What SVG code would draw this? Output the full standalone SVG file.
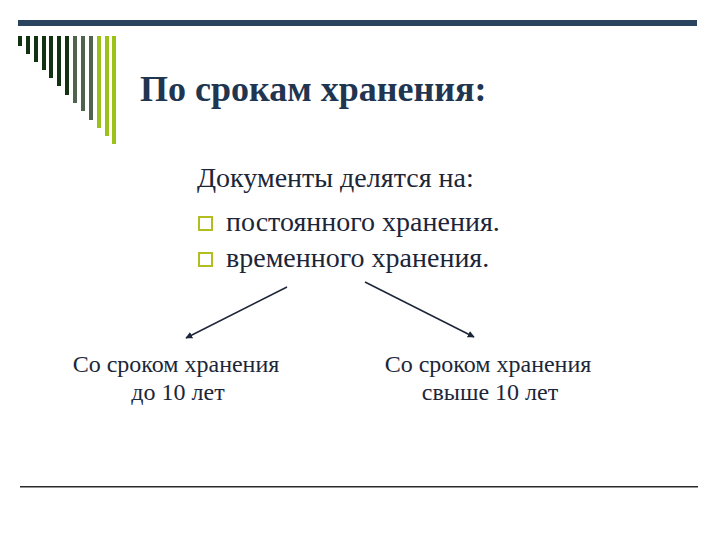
<svg xmlns="http://www.w3.org/2000/svg" width="720" height="540" viewBox="0 0 720 540">
<defs>
<style>
.title{font-family:"Liberation Serif","Times New Roman",serif;font-weight:bold;font-size:36px;fill:#1f3550}
.body{font-family:"Liberation Serif","Times New Roman",serif;font-size:28px;fill:#1c2638}
.lbl{font-family:"Liberation Serif","Times New Roman",serif;font-size:24px;fill:#1c2638;text-anchor:middle}
.dk{fill:#123212}.md{fill:#4f634f}.lm{fill:#9cc21a}
.bul{fill:none;stroke:#b2bd22;stroke-width:2}
.conn{stroke:#1c2638;stroke-width:1.5;fill:none;marker-end:url(#ah)}
</style>
<marker id="ah" viewBox="0 0 10 10" refX="9" refY="5" markerWidth="7" markerHeight="7" orient="auto" markerUnits="userSpaceOnUse">
<path d="M0,0 L10,5 L0,10 z" fill="#1c2638"/>
</marker>
</defs>
<rect width="720" height="540" fill="#fff"/>
<g id="decor">
<rect x="18" y="20" width="679" height="6" fill="#2a4460"/>
<rect class="dk" x="18" y="36" width="4" height="10"/>
<rect class="dk" x="26" y="36" width="4" height="18"/>
<rect class="dk" x="34" y="36" width="4" height="26"/>
<rect class="dk" x="42" y="36" width="4" height="34"/>
<rect class="dk" x="49" y="36" width="4" height="42"/>
<rect class="dk" x="57" y="36" width="4" height="50"/>
<rect class="dk" x="65" y="36" width="4" height="59"/>
<rect class="md" x="73" y="36" width="4" height="67"/>
<rect class="md" x="81" y="36" width="4" height="75"/>
<rect class="md" x="89" y="36" width="4" height="84"/>
<rect class="lm" x="97" y="36" width="4" height="92"/>
<rect class="lm" x="105" y="36" width="4" height="100"/>
<rect class="lm" x="112" y="36" width="4" height="108"/>
<rect x="20" y="486" width="678" height="1.5" fill="#2b2b2b"/>
</g>
<g id="title"><text class="title" x="140" y="101">По срокам хранения:</text></g>
<g id="docs">
<text class="body" x="197" y="187">Документы делятся на:</text>
<rect class="bul" x="199" y="217" width="13" height="13"/>
<text class="body" x="226" y="231">постоянного хранения.</text>
<rect class="bul" x="199" y="253" width="13" height="13"/>
<text class="body" x="226" y="267">временного хранения.</text>
</g>
<g id="short">
<text class="lbl" x="176" y="372">Со сроком хранения</text>
<text class="lbl" x="178" y="400">до 10 лет</text>
</g>
<g id="long">
<text class="lbl" x="488" y="372">Со сроком хранения</text>
<text class="lbl" x="490" y="400">свыше 10 лет</text>
</g>
<g id="connectors">
<line class="conn" x1="287" y1="287" x2="186" y2="338"/>
<line class="conn" x1="365" y1="282" x2="474" y2="337"/>
</g>
</svg>
